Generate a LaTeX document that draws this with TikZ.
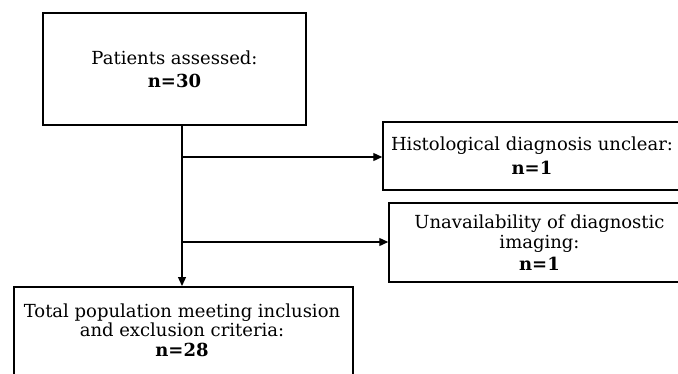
\documentclass[tikz,border=0pt]{standalone}
\usepackage{fontspec}
\setmainfont{DejaVu Serif}
\usetikzlibrary{arrows.meta}
\begin{document}
\begin{tikzpicture}[x=1pt,y=-1pt,
  boxshape/.style={draw, line width=1.5pt, rectangle, inner sep=0pt},
  box/.style={boxshape, align=center, font=\fontsize{18}{20}\selectfont},
  txt/.style={align=center, inner sep=0pt, font=\fontsize{18}{19.5}\selectfont},
  conn/.style={line width=1.3pt, -{Triangle[length=9pt,width=8pt]}}]
\useasboundingbox (0,0) rectangle (678,373);
\clip (0,0) rectangle (678,373);
\node[box, minimum width=263, minimum height=112] (assessed) at (174.5,69) {Patients assessed:\\[3pt]\textbf{n=30}};
\node[box, minimum width=298, minimum height=68] (hist) at (532,156) {Histological diagnosis unclear:\\[4pt]\textbf{n=1}};
\node[box, minimum width=301, minimum height=79] (imaging) at (539.5,242.5) {Unavailability of diagnostic\\imaging:\\[2pt]\textbf{n=1}};
\node[boxshape, minimum width=339, minimum height=120, anchor=north west] (total) at (13,286) {};
\node[txt] (totaltext) at (182,330) {Total population meeting inclusion\\and exclusion criteria:\\\textbf{n=28}};
\coordinate (b1) at (182,157);
\coordinate (b2) at (182,242);
\draw[conn] (assessed.south -| b1) -- (total.north -| b1);
\draw[conn] (b1) -- (hist.west |- b1);
\draw[conn] (b2) -- (imaging.west |- b2);
\end{tikzpicture}
\end{document}
